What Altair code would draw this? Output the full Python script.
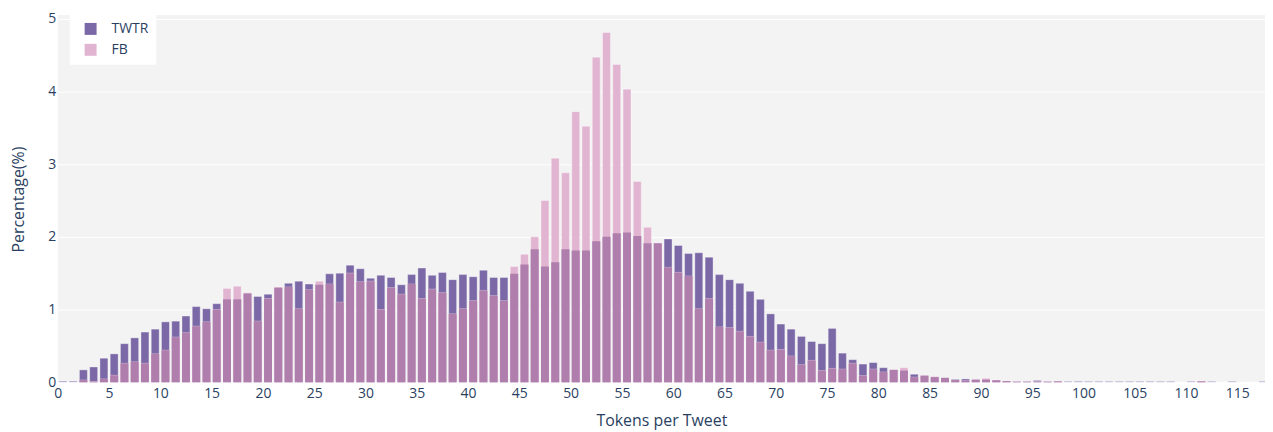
import altair as alt
import pandas as pd

bins = list(range(0, 118))

twtr = [0.015, 0.015, 0.17, 0.21, 0.33, 0.39, 0.53, 0.61, 0.69, 0.73,
        0.83, 0.84, 0.91, 1.04, 1.01, 1.08, 1.14, 1.14, 1.22, 1.18,
        1.21, 1.30, 1.36, 1.39, 1.35, 1.34, 1.49, 1.50, 1.61, 1.56,
        1.43, 1.47, 1.44, 1.34, 1.48, 1.57, 1.47, 1.51, 1.41, 1.48,
        1.45, 1.54, 1.44, 1.44, 1.49, 1.62, 1.83, 1.59, 1.65, 1.83,
        1.81, 1.81, 1.94, 2.00, 2.05, 2.06, 2.01, 1.91, 1.91, 1.97,
        1.88, 1.77, 1.78, 1.72, 1.48, 1.41, 1.36, 1.25, 1.14, 0.94,
        0.80, 0.73, 0.63, 0.56, 0.53, 0.74, 0.40, 0.31, 0.25, 0.27,
        0.20, 0.17, 0.16, 0.11, 0.09, 0.07, 0.06, 0.04, 0.045, 0.035,
        0.035, 0.027, 0.015, 0.012, 0.012, 0.025, 0.012, 0.012, 0.012, 0.012,
        0.012, 0.012, 0.012, 0.012, 0.012, 0.012, 0.012, 0.012, 0.012, 0.0,
        0.012, 0.012, 0.012, 0.0, 0.012, 0.0, 0.0, 0.012]

fb = [0.0, 0.0, 0.03, 0.01, 0.045, 0.095, 0.26, 0.28, 0.26, 0.39,
      0.44, 0.62, 0.68, 0.77, 0.83, 1.00, 1.29, 1.32, 1.23, 0.84,
      1.15, 1.31, 1.31, 1.01, 1.27, 1.39, 1.35, 1.10, 1.50, 1.38,
      1.39, 1.00, 1.30, 1.21, 1.35, 1.15, 1.28, 1.23, 0.94, 1.01,
      1.12, 1.26, 1.19, 1.12, 1.59, 1.76, 2.00, 2.50, 3.08, 2.88,
      3.72, 3.52, 4.47, 4.81, 4.37, 4.03, 2.76, 2.13, 1.91, 1.58,
      1.51, 1.46, 1.01, 1.15, 0.76, 0.75, 0.70, 0.63, 0.55, 0.44,
      0.45, 0.36, 0.24, 0.30, 0.16, 0.19, 0.18, 0.26, 0.09, 0.18,
      0.14, 0.17, 0.20, 0.07, 0.09, 0.08, 0.06, 0.03, 0.02, 0.035,
      0.055, 0.027, 0.018, 0.006, 0.006, 0.006, 0.006, 0.012, 0.0, 0.0,
      0.0, 0.0, 0.0, 0.0, 0.0, 0.0, 0.0, 0.0, 0.0, 0.0,
      0.0, 0.015, 0.0, 0.0, 0.0, 0.0, 0.0, 0.0]

series_names = ["TWTR", "FB"]
series_colors = ["#7B68A6", "#E1B5D1"]
overlap_color = "#B07EAD"
x_ticks = list(range(0, 116, 5))
y_ticks = [0, 1, 2, 3, 4, 5]

df = pd.DataFrame({"bin": bins, "TWTR": twtr, "FB": fb})

FONT = "Open Sans"
TXT = "#2a3f5f"

base = alt.Chart(df).transform_calculate(xc="datum.bin + 0.5")

xscale = alt.Scale(domain=[0, 117.7], nice=False, zero=False, padding=0)
yscale = alt.Scale(domain=[0, 5.05], nice=False, padding=0)

xaxis = alt.Axis(values=x_ticks, grid=False, ticks=False, domain=False, labelFlush=False,
                 labelPadding=4, labelFontSize=14, labelColor=TXT, labelFont=FONT,
                 title="Tokens per Tweet", titleFontSize=16, titleFontWeight="normal",
                 titleColor=TXT, titleFont=FONT, titleY=38, titleBaseline="middle")
yaxis = alt.Axis(values=y_ticks, format="d", grid=True, gridColor="#ffffff", gridWidth=1,
                 ticks=False, domain=False, labelFlush=False, labelPadding=2,
                 labelFontSize=14, labelColor=TXT, labelFont=FONT, title="Percentage(%)",
                 titleFontSize=16, titleFontWeight="normal", titleColor=TXT,
                 titleFont=FONT, titleX=-39, titleY=185, titleAngle=270,
                 titleBaseline="middle", titleAlign="center")

bars = base.transform_fold(["TWTR", "FB"], as_=["series", "value"]).mark_bar(
    size=8, stroke="#ffffff", strokeWidth=1, strokeOpacity=0.35
).encode(
    x=alt.X("xc:Q", scale=xscale, axis=xaxis),
    y=alt.Y("value:Q", scale=yscale, axis=yaxis, stack=None),
    color=alt.Color("series:N",
                    scale=alt.Scale(domain=series_names, range=series_colors),
                    sort=series_names,
                    legend=alt.Legend(title=None, orient="none", legendX=12, legendY=-1,
                                      fillColor="#ffffff", padding=8, symbolType="square",
                                      symbolSize=144, symbolStrokeWidth=0, symbolOpacity=1,
                                      symbolOffset=6, labelOffset=14, rowPadding=7,
                                      labelFontSize=14, labelColor=TXT, labelFont=FONT)),
)

overlap = base.transform_calculate(
    ov="min(datum.TWTR, datum.FB)"
).mark_bar(size=8, color=overlap_color).encode(
    x=alt.X("xc:Q", scale=xscale),
    y=alt.Y("ov:Q", scale=yscale, stack=None),
)

chart = alt.layer(bars, overlap).properties(
    width=1213, height=369,
    autosize=alt.AutoSizeParams(type="none"),
    padding={"left": 50, "top": 6, "right": 0, "bottom": 49},
).configure_view(fill="#F3F3F3", stroke=None)

chart.save("out.html", embed_options={"renderer": "svg", "actions": False})
